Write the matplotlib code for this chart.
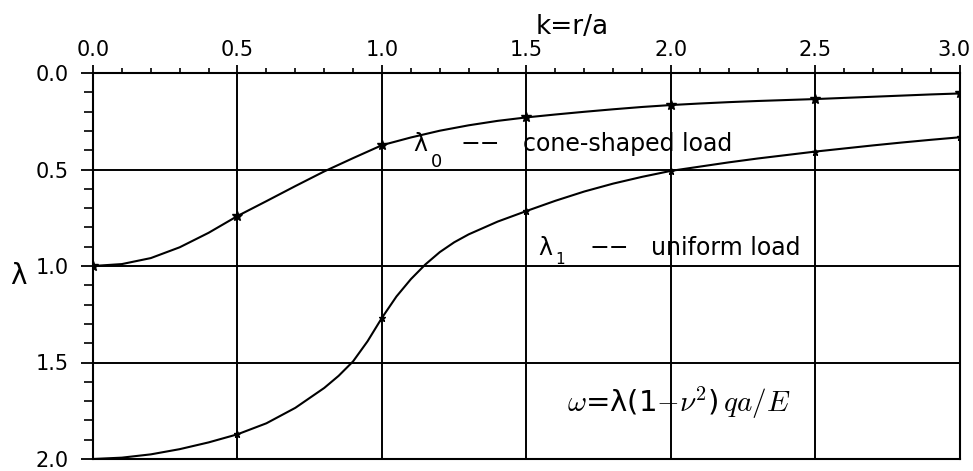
import matplotlib.pyplot as plt
from matplotlib.ticker import MultipleLocator
from matplotlib.transforms import ScaledTranslation

plt.rcParams['font.family'] = ['DejaVu Sans']
plt.rcParams['mathtext.fontset'] = 'cm'

# lambda_0 : cone-shaped load, read every 0.1 of k
k0 = [0.0, 0.1, 0.2, 0.3, 0.4, 0.5, 0.6, 0.7, 0.8, 0.9, 1.0,
      1.1, 1.2, 1.3, 1.4, 1.5, 1.6, 1.7, 1.8, 1.9, 2.0,
      2.1, 2.2, 2.3, 2.4, 2.5, 2.6, 2.7, 2.8, 2.9, 3.0]
lam0 = [1.000, 0.990, 0.959, 0.903, 0.828, 0.741, 0.664, 0.586, 0.510, 0.441, 0.374,
        0.334, 0.299, 0.271, 0.248, 0.230, 0.215, 0.201, 0.188, 0.176, 0.166,
        0.158, 0.151, 0.145, 0.140, 0.135, 0.129, 0.123, 0.117, 0.111, 0.106]

# lambda_1 : uniform load (denser around k=1 where it bends)
k1 = [0.0, 0.1, 0.2, 0.3, 0.4, 0.5, 0.6, 0.7, 0.8, 0.85, 0.9, 0.95, 1.0,
      1.05, 1.1, 1.15, 1.2, 1.25, 1.3, 1.4, 1.5, 1.6, 1.7, 1.8, 1.9, 2.0,
      2.1, 2.2, 2.3, 2.4, 2.5, 2.6, 2.7, 2.8, 2.9, 3.0]
lam1 = [2.000, 1.993, 1.976, 1.949, 1.914, 1.872, 1.815, 1.735, 1.632, 1.569, 1.494, 1.390, 1.268,
        1.158, 1.068, 0.992, 0.928, 0.877, 0.836, 0.770, 0.715, 0.662, 0.614, 0.573, 0.538, 0.507,
        0.485, 0.463, 0.443, 0.425, 0.407, 0.391, 0.375, 0.360, 0.346, 0.333]

xticks = [0.0, 0.5, 1.0, 1.5, 2.0, 2.5, 3.0]
yticks = [0.0, 0.5, 1.0, 1.5, 2.0]

fig = plt.figure(figsize=(9.73, 4.71), dpi=100)
ax = fig.add_axes([93/973, 12/471, 867/973, 386/471])

mark0 = [i for i, v in enumerate(k0) if abs(v * 2 - round(v * 2)) < 1e-9]
mark1 = [i for i, v in enumerate(k1) if abs(v * 2 - round(v * 2)) < 1e-9 and v > 0]
ax.plot(k0, lam0, color='black', lw=1.5, marker='*', ms=7, markevery=mark0)
ax.plot(k1, lam1, color='black', lw=1.5, marker='*', ms=5, markevery=mark1)

ax.set_xlim(0, 3)
ax.set_ylim(2.0, 0.0)
ax.xaxis.tick_top()
ax.set_xticks(xticks)
ax.set_yticks(yticks)
ax.set_xticklabels(['%.1f' % v for v in xticks])
ax.set_yticklabels(['%.1f' % v for v in yticks])
ax.xaxis.set_minor_locator(MultipleLocator(0.1))
ax.yaxis.set_minor_locator(MultipleLocator(0.1))
ax.tick_params(axis='x', which='major', direction='out', length=6, width=1.3, pad=3.5, labelsize=15)
ax.tick_params(axis='x', which='minor', direction='out', length=3.6, width=1.2)
ax.tick_params(axis='y', which='major', direction='out', length=8.6, width=1.3, pad=9, labelsize=15)
ax.tick_params(axis='y', which='minor', direction='out', length=6.5, width=1.2)
ax.grid(True, which='major', color='black', lw=1.4)
for s in ax.spines.values():
    s.set_linewidth(1.5)

# keep the last top label inside the figure
last = ax.get_xticklabels()[-1]
last.set_transform(last.get_transform() + ScaledTranslation(-6/100, 0, fig.dpi_scale_trans))

# curve labels
ax.text(1.108, 0.405, 'λ', fontsize=17, ha='left', va='baseline')
ax.text(1.170, 0.485, '0', fontsize=13, ha='left', va='baseline')
ax.text(1.341, 0.405, '−−', fontsize=17, ha='center', va='baseline')
ax.text(1.487, 0.405, 'cone-shaped load', fontsize=17, ha='left', va='baseline')

ax.text(1.54, 0.945, 'λ', fontsize=17, ha='left', va='baseline')
ax.text(1.598, 0.99, '1', fontsize=11, ha='left', va='baseline')
ax.text(1.787, 0.945, '−−', fontsize=17, ha='center', va='baseline')
ax.text(1.93, 0.945, 'uniform load', fontsize=17, ha='left', va='baseline')

ax.text(2.027, 1.756, r'$\omega$=λ(1$-\nu^{2}$)$\,qa/E$', fontsize=21, ha='center', va='baseline')

fig.text(572/973, 1 - 27/471, 'k=r/a', fontsize=19, ha='center', va='center')
fig.text(18/973, 1 - 276/471, 'λ', fontsize=20, ha='center', va='center')

fig.savefig('out.png', dpi=100)
